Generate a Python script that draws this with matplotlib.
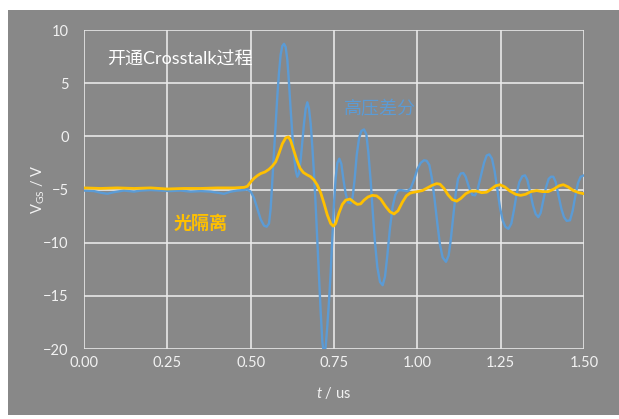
import matplotlib
matplotlib.use('Agg')
import matplotlib.pyplot as plt
from matplotlib.patches import Rectangle

plt.rcParams['font.family'] = ['Lato', 'Noto Sans CJK SC', 'DejaVu Sans']
plt.rcParams['mathtext.fontset'] = 'custom'
plt.rcParams['mathtext.rm'] = 'Lato'
plt.rcParams['mathtext.it'] = 'Lato:italic'

# 高压差分 (blue)
t_diff = [0.00, 0.03, 0.05, 0.07, 0.09, 0.12, 0.15, 0.17, 0.20, 0.23, 0.26, 0.29, 0.32, 0.35,
          0.38, 0.40, 0.42, 0.44, 0.46, 0.48, 0.49,
          0.50, 0.51, 0.52, 0.53, 0.54, 0.548, 0.555, 0.56, 0.565, 0.57, 0.575, 0.58, 0.585,
          0.59, 0.595, 0.60, 0.605, 0.61, 0.615, 0.62, 0.625, 0.63, 0.635, 0.64, 0.645, 0.65,
          0.655, 0.66, 0.665, 0.67, 0.675, 0.68, 0.685, 0.69, 0.695, 0.70, 0.705, 0.71, 0.715,
          0.72, 0.725, 0.73, 0.735, 0.74, 0.745, 0.75, 0.755, 0.76, 0.766, 0.772, 0.778, 0.785,
          0.792, 0.80, 0.806, 0.812, 0.818, 0.825, 0.832, 0.84, 0.847, 0.853, 0.86, 0.866,
          0.873, 0.88, 0.888, 0.896, 0.903, 0.91, 0.918, 0.926, 0.934, 0.942, 0.95, 0.96, 0.97,
          0.98, 0.99, 1.00, 1.01, 1.02, 1.028, 1.036, 1.044, 1.052, 1.06, 1.068, 1.076, 1.086,
          1.094, 1.10, 1.108, 1.115, 1.122, 1.13, 1.138, 1.145, 1.155, 1.165, 1.173, 1.18, 1.19,
          1.20, 1.208, 1.216, 1.224, 1.232, 1.24, 1.248, 1.256, 1.264, 1.273, 1.282, 1.29,
          1.298, 1.306, 1.315, 1.323, 1.33, 1.338, 1.347, 1.355, 1.363, 1.37, 1.378, 1.386,
          1.394, 1.401, 1.408, 1.415, 1.423, 1.432, 1.44, 1.448, 1.458, 1.466, 1.474, 1.482,
          1.49, 1.50]
v_diff = [-5.1, -5.15, -5.3, -5.4, -5.25, -5.1, -5.2, -5.1, -5.05, -5.1, -5.15, -5.1, -5.2, -5.15,
          -5.2, -5.3, -5.4, -5.2, -5.1, -5.05, -5.0,
          -5.2, -5.8, -6.8, -7.8, -8.4, -8.5, -8.2, -6.8, -4.2, -1.5, 1.2, 3.8, 6.0,
          7.7, 8.5, 8.7, 8.4, 7.2, 5.0, 2.5, 0.2, -1.8, -3.2, -3.8, -3.5, -2.2,
          -0.5, 1.2, 2.6, 3.2, 2.6, 1.2, -1.0, -3.5, -6.5, -9.8, -13.2, -16.5, -19.3,
          -20.5, -19.8, -17.8, -15.5, -12.8, -9.6, -6.3, -3.9, -2.5, -2.1, -2.6, -4.0, -5.4,
          -6.2, -6.3, -5.7, -4.0, -1.8, -0.2, 0.5, 0.65, 0.2, -1.5, -4.2, -7.0,
          -10.0, -12.3, -13.7, -14.0, -13.2, -11.2, -8.6, -6.6, -5.5, -5.1, -5.05, -5.1, -5.15,
          -4.9, -4.1, -3.1, -2.5, -2.25, -2.3, -2.7, -4.0, -6.0, -8.2, -10.2, -11.4, -11.8,
          -11.2, -9.8, -7.5, -5.4, -4.0, -3.5, -3.45, -3.8, -4.8, -5.5, -5.55, -5.1, -3.8,
          -2.5, -1.8, -1.7, -2.1, -3.3, -5.0, -6.7, -7.9, -8.5, -8.7, -8.2, -6.9,
          -5.4, -4.3, -3.75, -3.67, -4.1, -5.2, -6.5, -7.3, -7.6, -7.2, -6.0, -4.8,
          -4.0, -3.8, -3.8, -4.3, -5.5, -6.8, -7.6, -7.95, -7.9, -7.0, -5.6, -4.4,
          -3.8, -3.67]

# 光隔离 (yellow)
t_opto = [0.00, 0.05, 0.10, 0.15, 0.20, 0.25, 0.30, 0.35, 0.40, 0.45, 0.48, 0.49, 0.50, 0.51,
          0.52, 0.53, 0.543, 0.555, 0.565, 0.575, 0.585, 0.595, 0.605, 0.613, 0.62, 0.628,
          0.638, 0.648, 0.658, 0.668, 0.68, 0.69, 0.70, 0.71, 0.72, 0.73, 0.74, 0.748, 0.755,
          0.765, 0.775, 0.785, 0.798, 0.81, 0.82, 0.83, 0.84, 0.852, 0.865, 0.878, 0.89, 0.905,
          0.918, 0.93, 0.942, 0.955, 0.967, 0.978, 0.99, 1.00, 1.015, 1.03, 1.045, 1.058,
          1.068, 1.08, 1.092, 1.105, 1.118, 1.13, 1.145, 1.16, 1.178, 1.193, 1.208, 1.222,
          1.235, 1.248, 1.262, 1.278, 1.295, 1.31, 1.325, 1.34, 1.358, 1.375, 1.393, 1.41,
          1.425, 1.438, 1.452, 1.468, 1.485, 1.50]
v_opto = [-4.85, -4.9, -4.85, -4.9, -4.85, -4.95, -4.9, -4.9, -4.85, -4.85, -4.8, -4.7, -4.3, -3.95,
          -3.7, -3.5, -3.35, -3.1, -2.8, -2.4, -1.6, -0.7, -0.15, -0.05, -0.4, -1.2,
          -2.2, -3.0, -3.4, -3.6, -3.8, -4.1, -4.6, -5.3, -6.3, -7.4, -8.2, -8.45, -8.2,
          -7.2, -6.4, -6.0, -5.9, -6.2, -6.4, -6.35, -6.0, -5.7, -5.55, -5.6, -5.9, -6.6,
          -7.1, -7.3, -7.0, -6.2, -5.6, -5.35, -5.25, -5.2, -5.1, -4.85, -4.6, -4.45,
          -4.5, -4.9, -5.5, -5.95, -6.1, -5.85, -5.4, -5.15, -5.15, -5.3, -5.25, -4.95,
          -4.65, -4.55, -4.75, -5.15, -5.45, -5.55, -5.45, -5.2, -5.1, -5.2, -5.2, -4.95,
          -4.65, -4.55, -4.75, -5.1, -5.3, -5.4]

x_ticks = [0.0, 0.25, 0.5, 0.75, 1.0, 1.25, 1.5]
y_ticks = [-20, -15, -10, -5, 0, 5, 10]

BG = '#888888'
TXT = '#F2F2F2'
BLUE = '#5B9BD5'
YELLOW = '#FFC000'

fig = plt.figure(figsize=(6.19, 4.19), dpi=100)
fig.patch.set_facecolor('white')
fig.patches.append(Rectangle((8 / 619, 4 / 419), 611 / 619, 405 / 419,
                             transform=fig.transFigure, facecolor=BG, edgecolor='none', zorder=-10))

ax = fig.add_axes([84 / 619, 70 / 419, 500 / 619, 319 / 419])
ax.set_zorder(1)
ax.set_facecolor(BG)
for s in ax.spines.values():
    s.set_visible(False)

ax.plot(t_diff, v_diff, color=BLUE, lw=1.7, zorder=3)
ax.plot(t_opto, v_opto, color=YELLOW, lw=2.0, zorder=4)

ax.set_xlim(0, 1.5)
ax.set_ylim(-20, 10)
ax.set_xticks(x_ticks)
ax.set_yticks(y_ticks)
ax.set_xticklabels(['%.2f' % v for v in x_ticks])
ax.grid(True, color='#E8E8E8', lw=1.2, zorder=1)
ax.set_axisbelow(True)
ax.tick_params(length=0, colors=TXT, labelsize=10.5)
ax.tick_params(axis='x', pad=5)
ax.tick_params(axis='y', pad=11)

ax.set_xlabel(r'$t$ / us', color=TXT, fontsize=10.5)
ax.xaxis.set_label_coords(0.5, -0.112)
ax.set_ylabel(r'$\mathrm{V_{GS}}$ / V', color=TXT, fontsize=10.5)
ax.yaxis.set_label_coords(-0.074, 0.5)

ax.text(0.069, 7.2, '开通Crosstalk过程', color='white', fontsize=13, va='center', ha='left', zorder=5)
ax.text(0.78, 2.6, '高压差分', color=BLUE, fontsize=13, va='center', ha='left', zorder=5)
ax.text(0.27, -8.2, '光隔离', color=YELLOW, fontsize=13, fontweight='bold', va='center', ha='left', zorder=5)

fig.savefig('out.png', dpi=100, facecolor=fig.get_facecolor())
